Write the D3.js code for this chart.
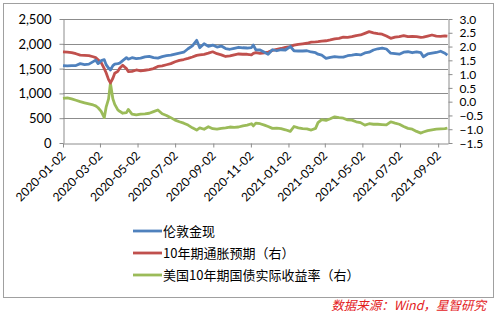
<!DOCTYPE html>
<html><head><meta charset="utf-8">
<script src="https://cdn.jsdelivr.net/npm/d3@7"></script>
<style>
html,body{margin:0;padding:0;background:#fff;}
svg{display:block;font-family:Lato,"Noto Sans CJK SC",sans-serif;}
</style></head>
<body>
<svg id="c" width="498" height="320"></svg>
<script>
const dates = ["2020-01-02","2020-01-09","2020-01-16","2020-01-23","2020-01-30","2020-02-06","2020-02-13","2020-02-20","2020-02-24","2020-02-28",
"2020-03-04","2020-03-09","2020-03-12","2020-03-16","2020-03-19","2020-03-23","2020-03-26","2020-03-31","2020-04-03","2020-04-08",
"2020-04-14","2020-04-17","2020-04-23","2020-04-30","2020-05-07","2020-05-14","2020-05-21","2020-05-28","2020-06-04","2020-06-11",
"2020-06-18","2020-06-25","2020-07-02","2020-07-09","2020-07-16","2020-07-23","2020-07-30","2020-08-06","2020-08-11","2020-08-18",
"2020-08-25","2020-09-01","2020-09-08","2020-09-15","2020-09-22","2020-09-29","2020-10-06","2020-10-13","2020-10-20","2020-10-27",
"2020-11-03","2020-11-06","2020-11-10","2020-11-17","2020-11-24","2020-11-30","2020-12-07","2020-12-14","2020-12-21","2020-12-28",
"2021-01-05","2021-01-11","2021-01-18","2021-01-25","2021-02-01","2021-02-08","2021-02-15","2021-02-19","2021-02-25","2021-03-04",
"2021-03-11","2021-03-18","2021-03-25","2021-04-01","2021-04-08","2021-04-15","2021-04-22","2021-04-29","2021-05-06","2021-05-13",
"2021-05-20","2021-05-27","2021-06-03","2021-06-10","2021-06-17","2021-06-24","2021-07-01","2021-07-08","2021-07-15","2021-07-22",
"2021-07-29","2021-08-05","2021-08-09","2021-08-16","2021-08-23","2021-08-30","2021-09-06","2021-09-13","2021-09-17"];

const goldSpot = [1560,1555,1558,1562,1600,1580,1590,1640,1670,1600,
1660,1680,1580,1510,1472,1560,1590,1600,1610,1660,
1720,1690,1720,1700,1710,1735,1745,1720,1710,1740,
1760,1770,1790,1810,1830,1900,1960,2070,1920,2000,
1950,1975,1935,1955,1905,1890,1910,1930,1920,1915,
1925,1975,1880,1875,1830,1790,1880,1860,1880,1875,
1945,1860,1855,1855,1860,1835,1820,1790,1770,1705,
1725,1740,1730,1730,1760,1770,1785,1775,1815,1830,
1875,1900,1915,1895,1810,1800,1790,1830,1840,1820,
1835,1820,1740,1795,1810,1825,1850,1810,1770];

const breakeven = [1.81,1.80,1.78,1.74,1.69,1.68,1.67,1.63,1.60,1.52,
1.42,1.20,1.05,0.80,0.68,0.85,1.03,1.10,1.21,1.32,
1.20,1.09,1.10,1.15,1.12,1.14,1.16,1.20,1.28,1.30,
1.34,1.38,1.45,1.50,1.53,1.57,1.62,1.68,1.70,1.72,
1.76,1.81,1.74,1.70,1.64,1.66,1.70,1.73,1.72,1.72,
1.70,1.75,1.78,1.75,1.77,1.80,1.86,1.90,1.93,1.97,
2.00,2.05,2.08,2.10,2.12,2.16,2.17,2.18,2.20,2.21,
2.24,2.28,2.30,2.34,2.33,2.36,2.40,2.42,2.48,2.54,
2.50,2.47,2.45,2.38,2.30,2.34,2.36,2.40,2.36,2.37,
2.36,2.33,2.34,2.38,2.42,2.38,2.37,2.39,2.38];

const realYield = [0.12,0.14,0.10,0.05,0.00,-0.04,-0.08,-0.12,-0.15,-0.22,
-0.35,-0.58,-0.20,0.10,0.67,0.10,-0.10,-0.30,-0.35,-0.42,
-0.40,-0.28,-0.45,-0.48,-0.45,-0.44,-0.42,-0.36,-0.30,-0.44,
-0.50,-0.58,-0.67,-0.73,-0.78,-0.85,-0.95,-1.03,-0.95,-1.00,
-0.91,-0.98,-1.00,-0.97,-0.95,-0.92,-0.93,-0.92,-0.88,-0.85,
-0.80,-0.88,-0.78,-0.80,-0.85,-0.90,-0.97,-0.96,-0.98,-1.02,
-1.08,-0.90,-0.95,-0.98,-0.99,-1.03,-0.97,-0.76,-0.65,-0.68,
-0.62,-0.55,-0.58,-0.60,-0.66,-0.67,-0.73,-0.76,-0.85,-0.80,
-0.82,-0.82,-0.83,-0.84,-0.73,-0.78,-0.82,-0.90,-0.97,-1.00,
-1.08,-1.14,-1.10,-1.05,-1.02,-1.00,-0.99,-0.98,-0.96];

const xTickLabels = ["2020-01-02","2020-03-02","2020-05-02","2020-07-02","2020-09-02","2020-11-02","2021-01-02","2021-03-02","2021-05-02","2021-07-02","2021-09-02"];
const leftTicks = [0,500,1000,1500,2000,2500];
const rightTicks = [-1.5,-1.0,-0.5,0.0,0.5,1.0,1.5,2.0,2.5,3.0];
const seriesNames = ["伦敦金现","10年期通胀预期（右）","美国10年期国债实际收益率（右）"];
const colors = ["#4f81bd","#c0504d","#9bbb59"];
const sourceText = "数据来源：Wind，星智研究";

const parse = d3.utcParse("%Y-%m-%d");
const D = dates.map(parse);
const svg = d3.select("#c");
const L = 63, R = 448, T = 19, B = 143;
const grid = "#8c8c8c";

svg.append("rect").attr("x",3.5).attr("y",3.5).attr("width",490).attr("height",294)
  .attr("fill","none").attr("stroke","#a0a0a0");

const x = d3.scaleUtc().domain([parse("2020-01-02"), parse("2021-09-18")]).range([L,R]);
const yL = d3.scaleLinear().domain([0,2500]).range([B,T]);
const yR = d3.scaleLinear().domain([-1.5,3.0]).range([B,T]);

// gridlines
svg.append("g").selectAll("line").data(leftTicks.filter(v=>v>0)).join("line")
  .attr("x1",L).attr("x2",R).attr("y1",d=>Math.round(yL(d))+0.5).attr("y2",d=>Math.round(yL(d))+0.5)
  .attr("stroke",grid).attr("stroke-width",1);

const gl = svg.append("g").attr("transform",`translate(${L+0.5},0)`)
  .call(d3.axisLeft(yL).tickValues(leftTicks).tickFormat(d3.format(",")).tickSize(4).tickSizeOuter(0));
const gr = svg.append("g").attr("transform",`translate(${R+0.5},0)`)
  .call(d3.axisRight(yR).tickValues(rightTicks).tickFormat(d3.format(".1f")).tickSize(4).tickSizeOuter(0));
const gb = svg.append("g").attr("transform",`translate(0,${B+0.5})`)
  .call(d3.axisBottom(x).tickValues(xTickLabels.map(parse)).tickFormat(d3.utcFormat("%Y-%m-%d")).tickSize(4).tickSizeOuter(0));

[gl,gr,gb].forEach(g=>{
  g.select(".domain").attr("stroke",grid);
  g.selectAll(".tick line").attr("stroke",grid);
  g.selectAll("text").attr("fill","#000").attr("font-size","13px").attr("font-family","Lato,sans-serif");
});
gl.selectAll("text").attr("x",-12).attr("dy","0.35em");
gr.selectAll("text").attr("x",11).attr("dy","0.35em").attr("font-size","12px");
gb.selectAll("text").attr("font-size","12px")
  .attr("text-anchor","end").attr("dy","0").attr("y",0)
  .attr("transform","translate(3,13) rotate(-45)");

const lineL = d3.line().x((d,i)=>x(D[i])).y(d=>yL(d));
const lineR = d3.line().x((d,i)=>x(D[i])).y(d=>yR(d));
const g = svg.append("g").attr("fill","none").attr("stroke-width",2.8).attr("stroke-linejoin","round");
g.append("path").attr("d",lineR(realYield)).attr("stroke",colors[2]);
g.append("path").attr("d",lineR(breakeven)).attr("stroke",colors[1]);
g.append("path").attr("d",lineL(goldSpot)).attr("stroke",colors[0]);

const lg = svg.append("g");
seriesNames.forEach((n,i)=>{
  const yy = 231 + i*22;
  lg.append("line").attr("x1",133).attr("x2",162).attr("y1",yy).attr("y2",yy)
    .attr("stroke",colors[i]).attr("stroke-width",2.8);
  lg.append("text").attr("x",163).attr("y",yy).attr("dy","0.36em")
    .attr("font-size","13px").attr("fill","#000").attr("font-family","'Noto Sans CJK SC',sans-serif").text(n);
});

svg.append("text").attr("x",486).attr("y",310).attr("text-anchor","end")
  .attr("font-size","12.5px").attr("font-style","italic").attr("fill","#e3211d")
  .attr("font-family","'Noto Sans CJK SC',sans-serif").text(sourceText);
</script>
</body></html>
